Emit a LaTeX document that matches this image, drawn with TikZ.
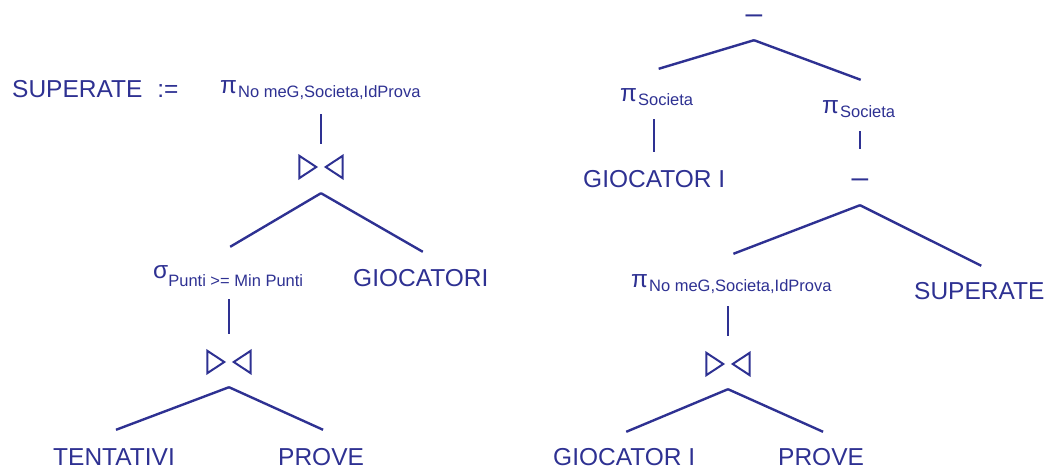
\documentclass[tikz,border=0pt]{standalone}
\usepackage{fontspec}
\setmainfont{Liberation Sans}
\usetikzlibrary{calc}
\definecolor{ablue}{HTML}{2E3192}
\newcommand{\opsub}{\fontsize{16.5}{20}\selectfont}
\tikzset{
  every picture/.style={font=\fontsize{24.5}{28}\selectfont, line width=2.4pt},
  lbl/.style={text=ablue, inner sep=0pt, text height=17pt, text depth=0pt, anchor=base west},
  op/.style={lbl, text height=16pt},
  jn/.style={inner sep=0pt, minimum width=41pt, minimum height=20pt},
  mn/.style={lbl, anchor=center, font=\fontsize{30}{32}\selectfont},
  br/.style={draw=ablue, line width=2.4pt},
  tri/.style={draw=ablue, line width=2pt},
}

\begin{document}
\begin{tikzpicture}[x=1pt, y=-1pt]
  \useasboundingbox (0,0) rectangle (1050,470);
  % left: SUPERATE
  \node[lbl] (asg) at (11, 98) {SUPERATE\hspace{15pt}:=};
  \node[op] (p1) at (219, 98) {\raisebox{4pt}{π}\kern1pt{\opsub No meG,Societa,IdProva}};
  \node[jn] (j1) at (321, 167) {};
  \node[op] (sg) at (152, 287) {\raisebox{8pt}{σ}{\opsub Punti >= Min Punti}};
  \node[lbl] (g1) at (352, 287) {GIOCATORI};
  \node[jn] (j2) at (229, 362) {};
  \node[lbl] (tn) at (52, 465) {TENTATIVI};
  \node[lbl] (pv1) at (277, 465) {PROVE};
  % right: difference
  \node[mn] (m1) at (754, 15) {–};
  \node[op] (ps1) at (619, 106) {\raisebox{4.5pt}{π}\kern1pt{\opsub Societa}};
  \node[op] (ps2) at (821, 118) {\raisebox{4.5pt}{π}\kern1pt{\opsub Societa}};
  \node[lbl] (gr1) at (582, 188) {GIOCATOR I};
  \node[mn] (m2) at (860, 179.5) {–};
  \node[op] (pr2) at (630, 292) {\raisebox{4pt}{π}\kern1pt{\opsub No meG,Societa,IdProva}};
  \node[lbl] (sp2) at (913, 300) {SUPERATE};
  \node[jn] (j3) at (728, 364) {};
  \node[lbl] (gr2) at (552, 465) {GIOCATOR I};
  \node[lbl] (pv2) at (777, 465) {PROVE};
  % join symbols
  \foreach \j in {j1, j2, j3} {
    \draw[tri] (\j.north west) -- ([xshift=17pt]\j.west) -- (\j.south west) -- cycle;
    \draw[tri] (\j.north east) -- ([xshift=-17pt]\j.east) -- (\j.south east) -- cycle;
  }
  % branches
  \foreach \a/\b/\s/\t in {j1/sg/15pt/23pt, j1/g1/15pt/17pt, j2/tn/14pt/17pt, j2/pv1/14pt/17pt,
      m1/ps1/15.5pt/20pt, m1/ps2/15.5pt/21pt, m2/pr2/16pt/21pt, m2/sp2/16pt/16pt,
      j3/gr2/14pt/15pt, j3/pv2/14pt/15pt}
    \draw[br] ([yshift=-\s]\a.south) -- ([xshift=2pt, yshift=\t]\b.north);
  \foreach \a/\b/\s/\t in {p1/j1/15pt/12pt, sg/j2/11pt/17pt, ps1/gr1/12pt/18pt,
      ps2/m2/12pt/21pt, pr2/j3/13pt/17pt}
    \draw[br] ([yshift=-\s]\a.south -| \b.north) -- ([yshift=\t]\b.north);
\end{tikzpicture}
\end{document}
